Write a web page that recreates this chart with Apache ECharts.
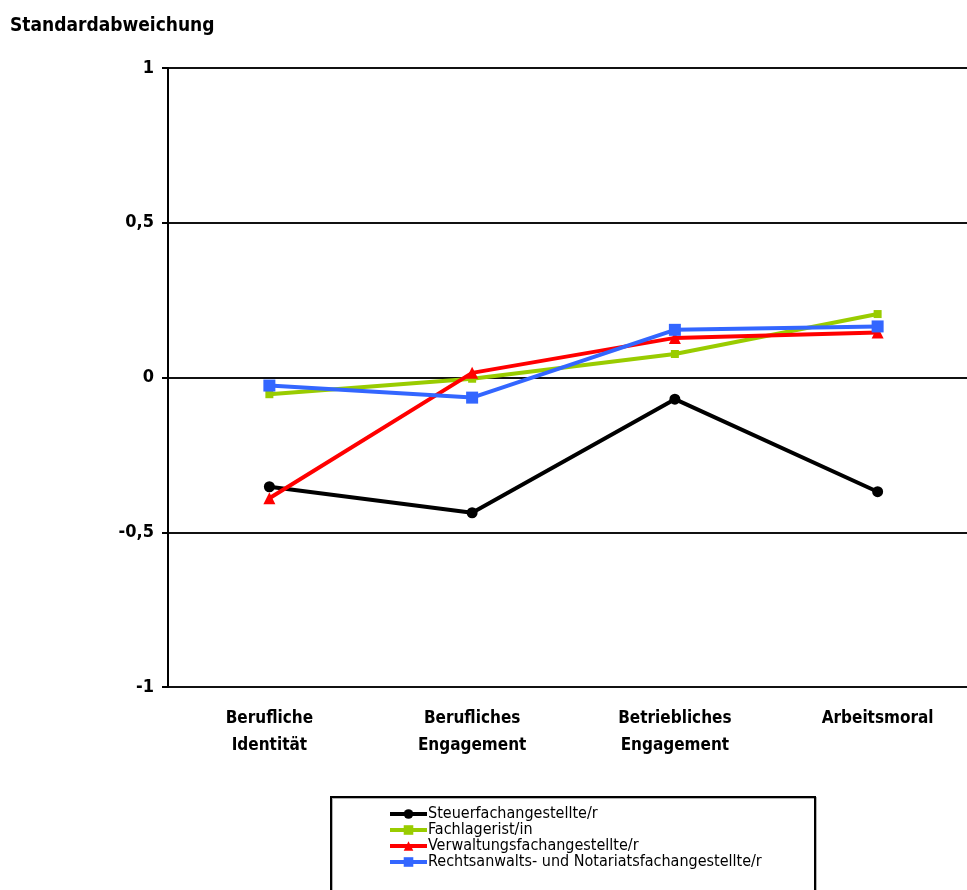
<!DOCTYPE html>
<html>
<head>
<meta charset="utf-8">
<script src="https://cdn.jsdelivr.net/npm/echarts@6/dist/echarts.min.js"></script>
<style>
html,body{margin:0;padding:0;background:#fff;}
#chart{width:967px;height:890px;}
</style>
</head>
<body>
<div id="chart"></div>
<script>
const categories = ['Berufliche\nIdentität', 'Berufliches\nEngagement', 'Betriebliches\nEngagement', 'Arbeitsmoral'];
const seriesNames = ['Steuerfachangestellte/r', 'Fachlagerist/in', 'Verwaltungsfachangestellte/r', 'Rechtsanwalts- und Notariatsfachangestellte/r'];
const steuerValues = [-0.353, -0.437, -0.070, -0.369];
const fachlageristValues = [-0.054, -0.004, 0.076, 0.205];
const verwaltungValues = [-0.390, 0.015, 0.128, 0.145];
const rechtsValues = [-0.026, -0.065, 0.154, 0.165];
const yTicks = [-1, -0.5, 0, 0.5, 1];

const FONT = '"Liberation Sans Narrow", "Arial Narrow", "DejaVu Sans Condensed", sans-serif';
const colors = ['#000000', '#99cc00', '#ff0000', '#3366ff'];
const symbols = ['circle', 'rect', 'triangle', 'rect'];
const symbolSizes = [11, 8, 12, 12];
const dataSets = [steuerValues, fachlageristValues, verwaltungValues, rechtsValues];

const chart = echarts.init(document.getElementById('chart'), null, {renderer: 'canvas'});
chart.setOption({
  animation: false,
  backgroundColor: '#fff',
  textStyle: {fontFamily: FONT},
  title: {
    text: 'Standardabweichung',
    left: 5, top: 12,
    textStyle: {fontFamily: FONT, fontWeight: 'bold', fontSize: 19, color: '#000'}
  },
  grid: {left: 168, top: 68, bottom: 203, right: -12, containLabel: false, outerBoundsMode: 'none'},
  xAxis: {
    type: 'category',
    data: categories,
    boundaryGap: true,
    axisLine: {show: false},
    axisTick: {show: false},
    axisLabel: {
      color: '#000', fontFamily: FONT, fontWeight: 'bold', fontSize: 17,
      lineHeight: 27, margin: 18, interval: 0
    }
  },
  yAxis: {
    type: 'value',
    min: -1, max: 1, interval: 0.5,
    axisLine: {show: true, lineStyle: {color: '#000', width: 2}},
    axisTick: {show: true, length: 6, lineStyle: {color: '#000', width: 2}},
    splitLine: {show: true, lineStyle: {color: '#111', width: 2}},
    axisLabel: {
      color: '#000', fontFamily: FONT, fontWeight: 'bold', fontSize: 18, margin: 14,
      padding: [5, 0, 0, 0],
      formatter: function (v) {
        return yTicks.indexOf(v) >= 0 ? String(v).replace('.', ',') : '';
      }
    }
  },
  legend: {
    orient: 'vertical',
    left: 388, top: 806,
    padding: 0,
    itemGap: 0,
    itemWidth: 37, itemHeight: 12,
    data: seriesNames,
    lineStyle: {width: 4},
    textStyle: {fontFamily: FONT, fontSize: 16, color: '#000', lineHeight: 16, padding: [0, 0, 0, -4]}
  },
  graphic: [{
    type: 'rect',
    shape: {x: 331, y: 797, width: 484, height: 140},
    style: {fill: 'none', stroke: '#000', lineWidth: 2, shadowColor: 'rgba(0,0,0,0.3)', shadowOffsetX: 1, shadowOffsetY: 1},
    z: 10
  }],
  series: seriesNames.map((name, i) => ({
    name: name,
    type: 'line',
    data: dataSets[i],
    color: colors[i],
    symbol: symbols[i],
    symbolSize: symbolSizes[i],
    showAllSymbol: true,
    lineStyle: {width: 4, color: colors[i]},
    itemStyle: {color: colors[i]},
    z: 3 + i
  }))
});
</script>
</body>
</html>
